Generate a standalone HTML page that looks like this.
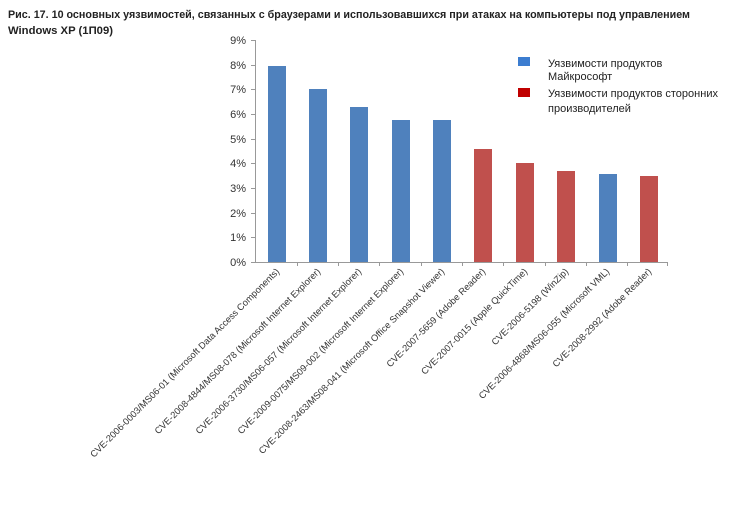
<!DOCTYPE html>
<html><head><meta charset="utf-8"><style>body{margin:0;background:#fff}svg{display:block}</style></head>
<body>
<svg width="750" height="507" xmlns="http://www.w3.org/2000/svg" font-family="Liberation Sans, sans-serif">
<text x="8" y="18" font-size="11" font-weight="bold" fill="#222" textLength="682" lengthAdjust="spacingAndGlyphs">Рис. 17. 10 основных уязвимостей, связанных с браузерами и использовавшихся при атаках на компьютеры под управлением</text>
<text x="8" y="34" font-size="11" font-weight="bold" fill="#222" textLength="105" lengthAdjust="spacingAndGlyphs">Windows XP (1П09)</text>
<g font-size="11" fill="#333" text-anchor="end">
<text x="246" y="44">9%</text><text x="246" y="69">8%</text><text x="246" y="93">7%</text><text x="246" y="118">6%</text><text x="246" y="143">5%</text><text x="246" y="167">4%</text><text x="246" y="192">3%</text><text x="246" y="217">2%</text><text x="246" y="241">1%</text><text x="246" y="266">0%</text>
</g>
<g stroke="#999" stroke-width="1">
<line x1="255.5" y1="40" x2="255.5" y2="262"/>
<line x1="251" y1="262.5" x2="668" y2="262.5"/>
<line x1="251" y1="40.5" x2="255" y2="40.5"/><line x1="251" y1="65.5" x2="255" y2="65.5"/><line x1="251" y1="89.5" x2="255" y2="89.5"/><line x1="251" y1="114.5" x2="255" y2="114.5"/><line x1="251" y1="139.5" x2="255" y2="139.5"/><line x1="251" y1="163.5" x2="255" y2="163.5"/><line x1="251" y1="188.5" x2="255" y2="188.5"/><line x1="251" y1="213.5" x2="255" y2="213.5"/><line x1="251" y1="237.5" x2="255" y2="237.5"/>
<line x1="297.5" y1="262" x2="297.5" y2="266"/><line x1="338.5" y1="262" x2="338.5" y2="266"/><line x1="379.5" y1="262" x2="379.5" y2="266"/><line x1="421.5" y1="262" x2="421.5" y2="266"/><line x1="462.5" y1="262" x2="462.5" y2="266"/><line x1="503.5" y1="262" x2="503.5" y2="266"/><line x1="545.5" y1="262" x2="545.5" y2="266"/><line x1="586.5" y1="262" x2="586.5" y2="266"/><line x1="627.5" y1="262" x2="627.5" y2="266"/><line x1="667.5" y1="262" x2="667.5" y2="266"/>
</g>
<g fill="#4f81bd">
<rect x="268" y="66" width="18" height="196"/>
<rect x="309" y="89" width="18" height="173"/>
<rect x="350" y="107" width="18" height="155"/>
<rect x="392" y="120" width="18" height="142"/>
<rect x="433" y="120" width="18" height="142"/>
<rect x="599" y="174" width="18" height="88"/>
</g>
<g fill="#c0504d">
<rect x="474" y="149" width="18" height="113"/>
<rect x="516" y="163" width="18" height="99"/>
<rect x="557" y="171" width="18" height="91"/>
<rect x="640" y="176" width="18" height="86"/>
</g>
<g font-size="9.3" fill="#333" text-anchor="end">
<text transform="translate(280,272) rotate(-45)">CVE-2006-0003/MS06-01 (Microsoft Data Access Components)</text>
<text transform="translate(321,272) rotate(-45)">CVE-2008-4844/MS08-078 (Microsoft Internet Explorer)</text>
<text transform="translate(362,272) rotate(-45)">CVE-2006-3730/MS06-057 (Microsoft Internet Explorer)</text>
<text transform="translate(404,272) rotate(-45)">CVE-2009-0075/MS09-002 (Microsoft Internet Explorer)</text>
<text transform="translate(445,272) rotate(-45)">CVE-2008-2463/MS08-041 (Microsoft Office Snapshot Viewer)</text>
<text transform="translate(486,272) rotate(-45)">CVE-2007-5659 (Adobe Reader)</text>
<text transform="translate(528,272) rotate(-45)">CVE-2007-0015 (Apple QuickTime)</text>
<text transform="translate(569,272) rotate(-45)">CVE-2006-5198 (WinZip)</text>
<text transform="translate(610,272) rotate(-45)">CVE-2006-4868/MS06-055 (Microsoft VML)</text>
<text transform="translate(652,272) rotate(-45)">CVE-2008-2992 (Adobe Reader)</text>
</g>
<rect x="518" y="57" width="12" height="9" fill="#3c7dd0"/>
<rect x="518" y="88" width="12" height="9" fill="#c00000"/>
<g font-size="11" fill="#222">
<text x="548" y="67">Уязвимости продуктов</text>
<text x="548" y="80">Майкрософт</text>
<text x="548" y="97">Уязвимости продуктов сторонних</text>
<text x="548" y="112">производителей</text>
</g>
</svg>
</body></html>
